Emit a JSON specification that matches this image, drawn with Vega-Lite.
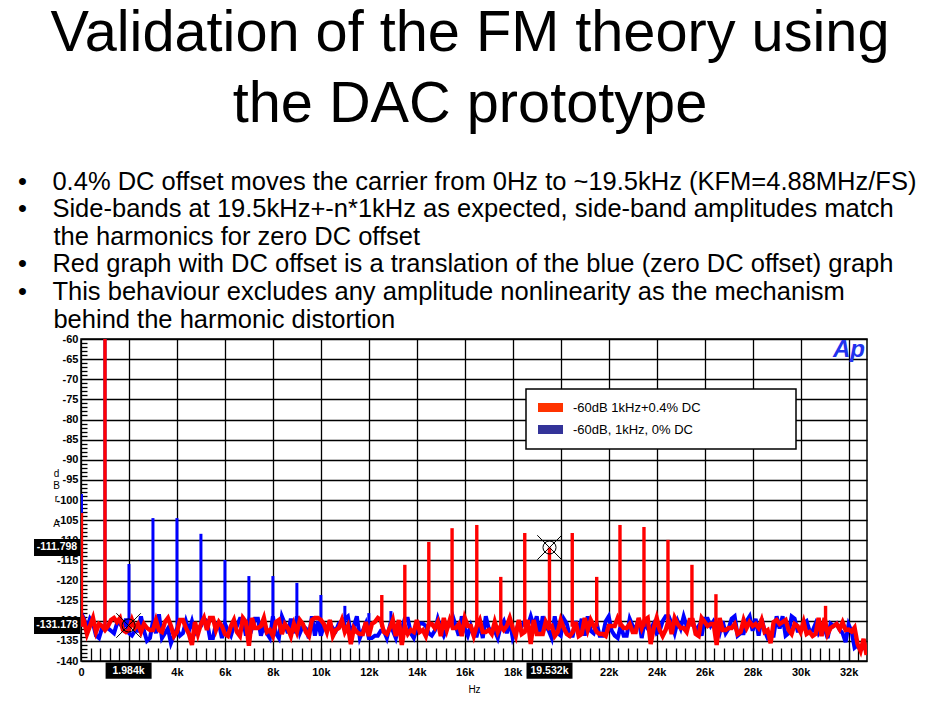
{
  "$schema": "https://vega.github.io/schema/vega-lite/v6.json",
  "background": "white",
  "padding": {"left": 17, "top": 5, "right": 0, "bottom": 8},
  "title": {
    "text": ["Validation of the FM theory using", "the DAC prototype"],
    "anchor": "middle",
    "frame": "group",
    "font": "Liberation Sans",
    "fontSize": 57.7,
    "fontWeight": "normal",
    "color": "black",
    "lineHeight": 71,
    "dx": -4,
    "offset": 35
  },
  "datasets": {
    "noise": [
{"f":0,"r":-128.5,"b":-128},{"f":125,"r":-130,"b":-129.5},{"f":250,"r":-133.3,"b":-131.9},{"f":375,"r":-131.3,"b":-129.5},{"f":500,"r":-129.3,"b":-130.7},{"f":625,"r":-132.8,"b":-133.7},{"f":750,"r":-130.8,"b":-134.3},{"f":875,"r":-131.3,"b":-131.9},{"f":1000,"r":-132.3,"b":-131.3},{"f":1125,"r":-131.3,"b":-131.9},
{"f":1250,"r":-129.8,"b":-132.5},{"f":1375,"r":-129.3,"b":-133.1},{"f":1500,"r":-130.3,"b":-130.7},{"f":1625,"r":-129.3,"b":-130.7},{"f":1750,"r":-132.3,"b":-131.9},{"f":1875,"r":-132.8,"b":-129.5},{"f":2000,"r":-132.3,"b":-133.1},{"f":2125,"r":-129.8,"b":-133.7},{"f":2250,"r":-131.8,"b":-132.5},{"f":2375,"r":-130.8,"b":-132.5},
{"f":2500,"r":-132.8,"b":-128.9},{"f":2625,"r":-130.8,"b":-132.5},{"f":2750,"r":-131.8,"b":-135},{"f":2875,"r":-132.3,"b":-134.3},{"f":3000,"r":-132.3,"b":-130.1},{"f":3125,"r":-129.8,"b":-133.1},{"f":3250,"r":-132.3,"b":-128.4},{"f":3375,"r":-132.8,"b":-134.3},{"f":3500,"r":-130.3,"b":-133.1},{"f":3625,"r":-129.3,"b":-131.9},
{"f":3750,"r":-131.3,"b":-135.6},{"f":3875,"r":-133.8,"b":-133.7},{"f":4000,"r":-132.8,"b":-131.9},{"f":4125,"r":-129.8,"b":-133.7},{"f":4250,"r":-129.8,"b":-133.1},{"f":4375,"r":-131.8,"b":-130.1},{"f":4500,"r":-133.3,"b":-132.5},{"f":4625,"r":-136,"b":-130.1},{"f":4750,"r":-130.3,"b":-133.1},{"f":4875,"r":-133.3,"b":-131.9},
{"f":5000,"r":-130.8,"b":-131.3},{"f":5125,"r":-129.3,"b":-129.5},{"f":5250,"r":-132.3,"b":-130.1},{"f":5375,"r":-129.3,"b":-134.3},{"f":5500,"r":-129.3,"b":-134.3},{"f":5625,"r":-132.3,"b":-130.7},{"f":5750,"r":-130.3,"b":-130.7},{"f":5875,"r":-131.3,"b":-134.3},{"f":6000,"r":-133.3,"b":-130.7},{"f":6125,"r":-133.8,"b":-132.5},
{"f":6250,"r":-131.3,"b":-133.7},{"f":6375,"r":-129.8,"b":-131.3},{"f":6500,"r":-132.8,"b":-131.3},{"f":6625,"r":-133.8,"b":-129.5},{"f":6750,"r":-129.3,"b":-129.5},{"f":6875,"r":-130.3,"b":-133.7},{"f":7000,"r":-136.2,"b":-130.1},{"f":7125,"r":-129.3,"b":-131.9},{"f":7250,"r":-131.8,"b":-129.5},{"f":7375,"r":-131.8,"b":-129.5},
{"f":7500,"r":-131.3,"b":-133.7},{"f":7625,"r":-129.3,"b":-131.3},{"f":7750,"r":-132.8,"b":-133.1},{"f":7875,"r":-132.3,"b":-134.3},{"f":8000,"r":-133.8,"b":-128.9},{"f":8125,"r":-130.3,"b":-133.1},{"f":8250,"r":-129.8,"b":-134.3},{"f":8375,"r":-133.3,"b":-128.9},{"f":8500,"r":-130.8,"b":-130.7},{"f":8625,"r":-131.8,"b":-133.1},
{"f":8750,"r":-133.8,"b":-129.5},{"f":8875,"r":-130.8,"b":-133.1},{"f":9000,"r":-132.8,"b":-128.9},{"f":9125,"r":-129.8,"b":-133.1},{"f":9250,"r":-130.8,"b":-131.3},{"f":9375,"r":-132.8,"b":-131.9},{"f":9500,"r":-133.8,"b":-134.3},{"f":9625,"r":-129.8,"b":-128.9},{"f":9750,"r":-129.3,"b":-133.7},{"f":9875,"r":-129.3,"b":-130.1},
{"f":10000,"r":-129.8,"b":-133.7},{"f":10125,"r":-130.8,"b":-131.3},{"f":10250,"r":-132.8,"b":-132.5},{"f":10375,"r":-129.8,"b":-130.7},{"f":10500,"r":-133.8,"b":-131.9},{"f":10625,"r":-132.3,"b":-132.5},{"f":10750,"r":-131.8,"b":-130.7},{"f":10875,"r":-129.8,"b":-130.1},{"f":11000,"r":-132.8,"b":-129.5},{"f":11125,"r":-131.3,"b":-128.9},
{"f":11250,"r":-135.8,"b":-133.1},{"f":11375,"r":-131.8,"b":-131.3},{"f":11500,"r":-132.8,"b":-128.9},{"f":11625,"r":-133.3,"b":-134.3},{"f":11750,"r":-133.3,"b":-132.5},{"f":11875,"r":-130.3,"b":-130.7},{"f":12000,"r":-133.8,"b":-134.3},{"f":12125,"r":-130.8,"b":-134.3},{"f":12250,"r":-130.3,"b":-133.7},{"f":12375,"r":-129.3,"b":-133.7},
{"f":12500,"r":-129.8,"b":-132.5},{"f":12625,"r":-132.8,"b":-132.5},{"f":12750,"r":-133.3,"b":-134.3},{"f":12875,"r":-131.8,"b":-131.3},{"f":13000,"r":-129.8,"b":-132.5},{"f":13125,"r":-133.8,"b":-134.3},{"f":13250,"r":-129.8,"b":-131.3},{"f":13375,"r":-136,"b":-131.9},{"f":13500,"r":-131.3,"b":-129.5},{"f":13625,"r":-133.3,"b":-129.5},
{"f":13750,"r":-132.3,"b":-133.1},{"f":13875,"r":-132.8,"b":-134.3},{"f":14000,"r":-129.8,"b":-131.9},{"f":14125,"r":-132.8,"b":-130.7},{"f":14250,"r":-132.3,"b":-130.7},{"f":14375,"r":-133.8,"b":-131.3},{"f":14500,"r":-130.8,"b":-133.1},{"f":14625,"r":-130.8,"b":-133.7},{"f":14750,"r":-131.8,"b":-132.5},{"f":14875,"r":-130.3,"b":-129.5},
{"f":15000,"r":-133.8,"b":-131.9},{"f":15125,"r":-129.3,"b":-133.7},{"f":15250,"r":-132.3,"b":-131.9},{"f":15375,"r":-129.8,"b":-130.7},{"f":15500,"r":-131.8,"b":-128.9},{"f":15625,"r":-131.8,"b":-131.3},{"f":15750,"r":-130.8,"b":-133.7},{"f":15875,"r":-133.8,"b":-128.9},{"f":16000,"r":-129.3,"b":-131.9},{"f":16125,"r":-131.3,"b":-133.7},
{"f":16250,"r":-131.3,"b":-131.3},{"f":16375,"r":-133.8,"b":-133.7},{"f":16500,"r":-131.3,"b":-133.7},{"f":16625,"r":-129.8,"b":-130.7},{"f":16750,"r":-132.8,"b":-134.3},{"f":16875,"r":-132.8,"b":-128.9},{"f":17000,"r":-132.3,"b":-131.9},{"f":17125,"r":-133.3,"b":-132.5},{"f":17250,"r":-130.3,"b":-132.5},{"f":17375,"r":-132.8,"b":-134.3},
{"f":17500,"r":-131.3,"b":-131.3},{"f":17625,"r":-132.3,"b":-130.1},{"f":17750,"r":-131.3,"b":-133.1},{"f":17875,"r":-129.3,"b":-130.1},{"f":18000,"r":-131.8,"b":-134.3},{"f":18125,"r":-133.8,"b":-132.5},{"f":18250,"r":-129.8,"b":-130.7},{"f":18375,"r":-133.3,"b":-131.3},{"f":18500,"r":-132.8,"b":-130.1},{"f":18625,"r":-129.8,"b":-131.3},
{"f":18750,"r":-135.8,"b":-128.9},{"f":18875,"r":-129.8,"b":-131.3},{"f":19000,"r":-133.3,"b":-128.9},{"f":19125,"r":-133.3,"b":-133.7},{"f":19250,"r":-133.3,"b":-128.9},{"f":19375,"r":-130.3,"b":-131.3},{"f":19500,"r":-131.8,"b":-132.5},{"f":19625,"r":-131.3,"b":-134.3},{"f":19750,"r":-133.8,"b":-128.9},{"f":19875,"r":-132.8,"b":-133.1},
{"f":20000,"r":-129.8,"b":-133.7},{"f":20125,"r":-131.8,"b":-129.5},{"f":20250,"r":-133.3,"b":-130.7},{"f":20375,"r":-133.8,"b":-133.7},{"f":20500,"r":-132.8,"b":-133.7},{"f":20625,"r":-130.3,"b":-130.1},{"f":20750,"r":-133.8,"b":-132.5},{"f":20875,"r":-133.3,"b":-129.5},{"f":21000,"r":-129.3,"b":-133.7},{"f":21125,"r":-132.3,"b":-128.9},
{"f":21250,"r":-129.8,"b":-132.5},{"f":21375,"r":-131.3,"b":-133.1},{"f":21500,"r":-132.8,"b":-130.7},{"f":21625,"r":-133.3,"b":-133.7},{"f":21750,"r":-133.3,"b":-133.7},{"f":21875,"r":-133.8,"b":-130.1},{"f":22000,"r":-131.3,"b":-128.9},{"f":22125,"r":-131.3,"b":-132.5},{"f":22250,"r":-131.3,"b":-133.7},{"f":22375,"r":-129.3,"b":-134.3},
{"f":22500,"r":-130.8,"b":-131.3},{"f":22625,"r":-131.8,"b":-133.7},{"f":22750,"r":-131.8,"b":-133.7},{"f":22875,"r":-130.8,"b":-129.5},{"f":23000,"r":-132.8,"b":-131.3},{"f":23125,"r":-132.8,"b":-131.9},{"f":23250,"r":-129.3,"b":-129.5},{"f":23375,"r":-131.8,"b":-134.3},{"f":23500,"r":-129.8,"b":-130.1},{"f":23625,"r":-129.3,"b":-131.9},
{"f":23750,"r":-135.8,"b":-131.9},{"f":23875,"r":-131.8,"b":-130.7},{"f":24000,"r":-129.3,"b":-133.1},{"f":24125,"r":-132.3,"b":-132.5},{"f":24250,"r":-133.8,"b":-130.1},{"f":24375,"r":-132.3,"b":-128.9},{"f":24500,"r":-129.8,"b":-128.9},{"f":24625,"r":-133.3,"b":-130.7},{"f":24750,"r":-129.3,"b":-133.1},{"f":24875,"r":-130.8,"b":-130.1},
{"f":25000,"r":-131.8,"b":-131.9},{"f":25125,"r":-131.8,"b":-128.9},{"f":25250,"r":-132.8,"b":-131.3},{"f":25375,"r":-129.8,"b":-130.7},{"f":25500,"r":-129.8,"b":-130.1},{"f":25625,"r":-133.3,"b":-132.5},{"f":25750,"r":-133.8,"b":-131.3},{"f":25875,"r":-129.3,"b":-133.7},{"f":26000,"r":-130.3,"b":-129.5},{"f":26125,"r":-131.3,"b":-129.5},
{"f":26250,"r":-130.8,"b":-131.3},{"f":26375,"r":-130.8,"b":-130.1},{"f":26500,"r":-136,"b":-131.3},{"f":26625,"r":-129.3,"b":-133.1},{"f":26750,"r":-132.3,"b":-130.1},{"f":26875,"r":-132.3,"b":-133.1},{"f":27000,"r":-131.8,"b":-131.9},{"f":27125,"r":-131.8,"b":-129.5},{"f":27250,"r":-130.8,"b":-128.9},{"f":27375,"r":-133.3,"b":-133.7},
{"f":27500,"r":-132.8,"b":-133.1},{"f":27625,"r":-129.8,"b":-133.1},{"f":27750,"r":-131.8,"b":-130.1},{"f":27875,"r":-130.3,"b":-128.9},{"f":28000,"r":-131.3,"b":-132.5},{"f":28125,"r":-130.8,"b":-129.5},{"f":28250,"r":-131.8,"b":-133.7},{"f":28375,"r":-129.8,"b":-129.5},{"f":28500,"r":-132.8,"b":-132.5},{"f":28625,"r":-132.3,"b":-134.3},
{"f":28750,"r":-135.6,"b":-133.7},{"f":28875,"r":-130.3,"b":-133.7},{"f":29000,"r":-129.8,"b":-128.9},{"f":29125,"r":-130.8,"b":-131.9},{"f":29250,"r":-130.3,"b":-128.9},{"f":29375,"r":-129.8,"b":-133.7},{"f":29500,"r":-132.3,"b":-133.1},{"f":29625,"r":-133.3,"b":-128.9},{"f":29750,"r":-130.8,"b":-129.5},{"f":29875,"r":-131.3,"b":-132.5},
{"f":30000,"r":-132.8,"b":-132.5},{"f":30125,"r":-130.3,"b":-130.7},{"f":30250,"r":-133.3,"b":-130.1},{"f":30375,"r":-132.8,"b":-132.5},{"f":30500,"r":-133.8,"b":-132.5},{"f":30625,"r":-133.3,"b":-130.7},{"f":30750,"r":-129.3,"b":-133.1},{"f":30875,"r":-133.8,"b":-131.9},{"f":31000,"r":-129.3,"b":-131.9},{"f":31125,"r":-133.3,"b":-134.3},
{"f":31250,"r":-131.8,"b":-130.7},{"f":31375,"r":-131.3,"b":-131.3},{"f":31500,"r":-130.8,"b":-130.7},{"f":31625,"r":-132.1,"b":-132.2},{"f":31750,"r":-130.4,"b":-133.1},{"f":31875,"r":-132.3,"b":-135.3},{"f":32000,"r":-132.2,"b":-130.9},{"f":32125,"r":-132.7,"b":-132.6},{"f":32250,"r":-131.7,"b":-136.7},{"f":32375,"r":-135.8,"b":-136.1},
{"f":32500,"r":-137.5,"b":-137.3},{"f":32625,"r":-134.5,"b":-136.7},{"f":32750,"r":-138.5,"b":-137}
    ],
    "bsp": [
      {"f":20,"db":-98.5},{"f":1000,"db":-60},{"f":2000,"db":-115.9},{"f":3000,"db":-104.5},{"f":4000,"db":-104.5},{"f":5000,"db":-108.4},{"f":6000,"db":-114.9},{"f":7000,"db":-118.9},{"f":8000,"db":-118.9},{"f":9000,"db":-120.6},{"f":10000,"db":-123.6},{"f":11000,"db":-126.3},{"f":12000,"db":-128.1},{"f":12920,"db":-127.6}
    ],
    "rsp": [
      {"f":20,"db":-103.2},{"f":1000,"db":-60},{"f":12540,"db":-123.6},{"f":13500,"db":-116.1},{"f":14500,"db":-110.4},{"f":15470,"db":-107},{"f":16500,"db":-106.2},{"f":17500,"db":-119.1},{"f":18500,"db":-108.2},{"f":19530,"db":-111.8},{"f":20480,"db":-108.2},{"f":21500,"db":-119.1},{"f":22470,"db":-106.2},{"f":23470,"db":-106.7},{"f":24470,"db":-109.9},{"f":25470,"db":-116.1},{"f":26470,"db":-123.4},{"f":31040,"db":-126.3}
    ],
    "cursors": [
      {"f":1984,"db":-131.178},{"f":19532,"db":-111.798}
    ],
    "logo": [{"t":"Ap"}]
  },
  "vconcat": [
    {
      "width": 786,
      "height": 322,
      "title": {
        "text": [
          "•\u00a0\u00a0\u00a0\u20060.4% DC offset moves the carrier from 0Hz to ~19.5kHz (KFM=4.88MHz/FS)",
          "•\u00a0\u00a0\u00a0\u2006Side-bands at 19.5kHz+-n*1kHz as expected, side-band amplitudes match",
          "\u200b\u00a0\u00a0\u00a0\u00a0\u00a0the harmonics for zero DC offset",
          "•\u00a0\u00a0\u00a0\u2006Red graph with DC offset is a translation of the blue (zero DC offset) graph",
          "•\u00a0\u00a0\u00a0\u2006This behaviour excludes any amplitude nonlinearity as the mechanism",
          "\u200b\u00a0\u00a0\u00a0\u00a0\u00a0behind the harmonic distortion"
        ],
        "anchor": "start",
        "frame": "bounds",
        "font": "Liberation Sans",
        "fontSize": 25.5,
        "fontWeight": "normal",
        "color": "black",
        "lineHeight": 27.6,
        "dx": -16,
        "offset": 0
      },
      "resolve": {"axis": {"x": "independent", "y": "independent"}},
      "layer": [
        {
          "data": {"name": "noise"},
          "mark": {"type": "line", "strokeWidth": 4, "clip": true},
          "encoding": {
            "x": {"field": "f", "type": "quantitative",
              "scale": {"domain": [0, 32768], "nice": false, "zero": false},
              "axis": {"orient": "bottom", "values": [0,2000,4000,6000,8000,10000,12000,14000,16000,18000,20000,22000,24000,26000,28000,30000,32000],
                "labelExpr": "datum.value === 0 ? '0' : (datum.value / 1000) + 'k'",
                "grid": true, "gridColor": "black", "gridWidth": 1.3, "gridOpacity": 1,
                "ticks": false, "domain": false, "labelFlush": false, "labelOverlap": false,
                "labelFont": "Liberation Sans", "labelFontSize": 11, "labelFontWeight": "bold", "labelColor": "black", "labelPadding": 5,
                "title": "Hz", "titleFont": "Liberation Sans", "titleFontSize": 10, "titleFontWeight": "normal", "titleColor": "black", "titlePadding": 7}},
            "y": {"field": "b", "type": "quantitative",
              "scale": {"domain": [-140, -60], "nice": false, "zero": false},
              "axis": {"orient": "left", "values": [-60,-65,-70,-75,-80,-85,-90,-95,-100,-105,-110,-115,-120,-125,-130,-135,-140],
                "grid": true, "gridColor": "black", "gridWidth": 1.3, "gridOpacity": 1,
                "ticks": false, "domain": false, "labelFlush": false, "labelOverlap": false,
                "labelFont": "Liberation Sans", "labelFontSize": 11, "labelFontWeight": "bold", "labelColor": "black", "labelPadding": 3,
                "title": ["d", "B", "r", "\u200b", "A"], "titleAngle": 0, "titleAlign": "center", "titleBaseline": "middle",
                "titleX": -25, "titleY": 134, "titleLineHeight": 12.5,
                "titleFont": "Liberation Sans", "titleFontSize": 10, "titleFontWeight": "normal", "titleColor": "black"}},
            "color": {"datum": "-60dB, 1kHz, 0% DC",
              "scale": {"domain": ["-60dB 1kHz+0.4% DC", "-60dB, 1kHz, 0% DC"], "range": ["#ff0000", "#0000ff"]},
              "legend": {
                "orient": "none", "legendX": 445, "legendY": 50,
                "fillColor": "white", "strokeColor": "black", "padding": 12,
                "title": null,
                "symbolType": "M-1,-0.36H1V0.36H-1Z", "symbolSize": 625, "symbolStrokeWidth": 0,
                "clipHeight": 13,
                "labelExpr": "datum.label + '\u00a0\u00a0\u00a0\u00a0\u00a0\u00a0\u00a0\u00a0\u00a0\u00a0\u00a0\u00a0\u00a0\u00a0\u00a0\u00a0\u00a0\u00a0\u00a0\u00a0\u00a0\u00a0\u00a0\u200b'",
                "labelLimit": 400,
                "labelFont": "Liberation Sans", "labelFontSize": 13, "labelColor": "black", "labelOffset": 10,
                "rowPadding": 8,
                "encode": {
                  "symbols": {"update": {
                    "fill": [{"test": "datum.value === '-60dB 1kHz+0.4% DC'", "value": "#ff3300"}, {"value": "#333399"}],
                    "stroke": {"value": "transparent"},
                    "opacity": {"value": 1}
                  }},
                  "legend": {"update": {"strokeWidth": {"value": 1.5}}}
                }
              }}
          }
        },
        {
          "data": {"name": "bsp"},
          "mark": {"type": "rule", "color": "#0000ff", "strokeWidth": 3, "clip": true},
          "encoding": {
            "x": {"field": "f", "type": "quantitative", "scale": {"domain": [0, 32768], "nice": false, "zero": false}, "axis": null},
            "y": {"field": "db", "type": "quantitative", "scale": {"domain": [-140, -60], "nice": false, "zero": false}, "axis": null},
            "y2": {"datum": -131.5}
          }
        },
        {
          "data": {"name": "noise"},
          "mark": {"type": "line", "strokeWidth": 4.4, "clip": true},
          "encoding": {
            "x": {"field": "f", "type": "quantitative",
              "scale": {"domain": [0, 32768], "nice": false, "zero": false},
              "axis": {"orient": "bottom", "values": [400,800,1200,1600,2000,2400,2800,3200,3600,4000,4400,4800,5200,5600,6000,6400,6800,7200,7600,8000,8400,8800,9200,9600,10000,10400,10800,11200,11600,12000,12400,12800,13200,13600,14000,14400,14800,15200,15600,16000,16400,16800,17200,17600,18000,18400,18800,19200,19600,20000,20400,20800,21200,21600,22000,22400,22800,23200,23600,24000,24400,24800,25200,25600,26000,26400,26800,27200,27600,28000,28400,28800,29200,29600,30000,30400,30800,31200,31600,32000,32400],
                "labels": false, "grid": false, "domain": false, "title": null,
                "ticks": true, "tickSize": -13, "tickColor": "black", "tickWidth": 1.3}},
            "y": {"field": "r", "type": "quantitative",
              "scale": {"domain": [-140, -60], "nice": false, "zero": false},
              "axis": {"orient": "left", "values": [-139,-138,-137,-136,-134,-133,-132,-131,-129,-128,-127,-126,-124,-123,-122,-121,-119,-118,-117,-116,-114,-113,-112,-111,-109,-108,-107,-106,-104,-103,-102,-101,-99,-98,-97,-96,-94,-93,-92,-91,-89,-88,-87,-86,-84,-83,-82,-81,-79,-78,-77,-76,-74,-73,-72,-71,-69,-68,-67,-66,-64,-63,-62,-61],
                "labels": false, "grid": false, "domain": false, "title": null,
                "ticks": true, "tickSize": -6, "tickColor": "black", "tickWidth": 1.3}},
            "color": {"datum": "-60dB 1kHz+0.4% DC"}
          }
        },
        {
          "data": {"name": "rsp"},
          "mark": {"type": "rule", "color": "#ff0000", "strokeWidth": 3.4, "clip": true},
          "encoding": {
            "x": {"field": "f", "type": "quantitative", "scale": {"domain": [0, 32768], "nice": false, "zero": false}, "axis": null},
            "y": {"field": "db", "type": "quantitative", "scale": {"domain": [-140, -60], "nice": false, "zero": false}, "axis": null},
            "y2": {"datum": -131.5}
          }
        },
        {
          "data": {"name": "cursors"},
          "mark": {"type": "point", "shape": "circle", "size": 170, "filled": false, "color": "black", "strokeWidth": 1, "opacity": 1},
          "encoding": {
            "x": {"field": "f", "type": "quantitative", "axis": null},
            "y": {"field": "db", "type": "quantitative", "axis": null}
          }
        },
        {
          "data": {"name": "cursors"},
          "mark": {"type": "point", "shape": "M-1,-1L1,1M-1,1L1,-1", "size": 600, "filled": false, "color": "black", "strokeWidth": 1, "opacity": 1},
          "encoding": {
            "x": {"field": "f", "type": "quantitative", "axis": null},
            "y": {"field": "db", "type": "quantitative", "axis": null}
          }
        },
        {
          "data": {"name": "cursors"},
          "mark": {"type": "point", "shape": "M-1,-0.37H1V0.37H-1Z", "size": 2116, "filled": true, "color": "black", "opacity": 1},
          "encoding": {
            "x": {"datum": -1000, "axis": null},
            "y": {"field": "db", "type": "quantitative", "axis": null}
          }
        },
        {
          "data": {"name": "cursors"},
          "mark": {"type": "text", "color": "white", "font": "Liberation Sans", "fontSize": 10.5, "fontWeight": "bold", "align": "center", "baseline": "middle"},
          "encoding": {
            "x": {"datum": -1000, "axis": null},
            "y": {"field": "db", "type": "quantitative", "axis": null},
            "text": {"field": "db", "type": "quantitative", "format": ".3f"}
          }
        },
        {
          "data": {"name": "cursors"},
          "mark": {"type": "point", "shape": "M-1,-0.35H1V0.35H-1Z", "size": 2116, "filled": true, "color": "black", "opacity": 1},
          "encoding": {
            "x": {"field": "f", "type": "quantitative", "axis": null},
            "y": {"datum": -142.4, "axis": null}
          }
        },
        {
          "data": {"name": "cursors"},
          "mark": {"type": "text", "color": "white", "font": "Liberation Sans", "fontSize": 10.5, "fontWeight": "bold", "align": "center", "baseline": "middle"},
          "encoding": {
            "x": {"field": "f", "type": "quantitative", "axis": null},
            "y": {"datum": -142.4, "axis": null},
            "text": {"field": "f", "type": "quantitative", "format": "~s"}
          }
        },
        {
          "data": {"name": "logo"},
          "mark": {"type": "text", "color": "#2233ee", "font": "Liberation Sans", "fontSize": 24, "fontWeight": "bold", "fontStyle": "italic", "align": "right", "baseline": "alphabetic", "dx": -2},
          "encoding": {
            "x": {"datum": 32768, "axis": null},
            "y": {"datum": -64.4, "axis": null},
            "text": {"field": "t"}
          }
        }
      ]
    }
  ],
  "config": {
    "view": {"stroke": "black", "strokeWidth": 1.5},
    "font": "Liberation Sans",
    "concat": {"spacing": 0},
    "locale": {"number": {"decimal": ".", "thousands": ",", "grouping": [3], "currency": ["$", ""], "minus": "-"}}
  }
}
